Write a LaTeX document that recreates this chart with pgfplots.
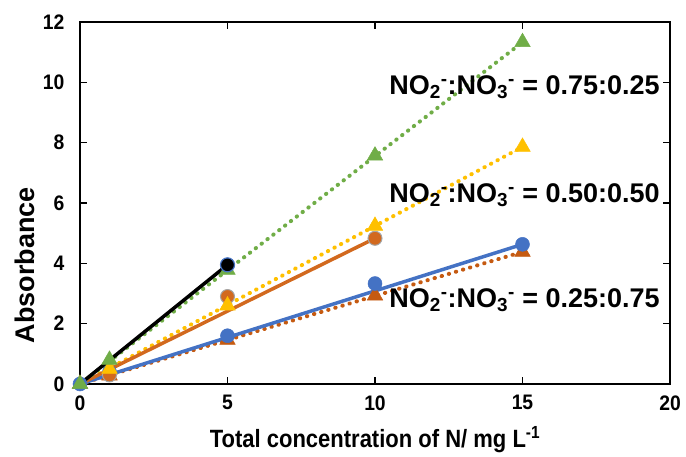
\documentclass[border=0pt]{standalone}
\usepackage{pgfplots}
\pgfplotsset{compat=1.18}
\usepackage{fontspec}
\setmainfont{Liberation Sans}
\newfontfamily\narrowfont{Liberation Sans}[FakeStretch=0.88]
\newfontfamily\tickfont{Liberation Sans}[FakeStretch=0.92]
\definecolor{xblue}{HTML}{4472C4}
\definecolor{xorange}{HTML}{C55A11}
\definecolor{xorange2}{HTML}{D2691E}
\definecolor{xyellow}{HTML}{FFC000}
\definecolor{xgreen}{HTML}{70AD47}
\definecolor{xgrey}{HTML}{A5A5A5}
\begin{document}
\begin{tikzpicture}[font=\bfseries]
\begin{axis}[
  scale only axis, width=590pt, height=362pt,
  xmin=0, xmax=20, ymin=0, ymax=12,
  xtick={0,5,10,15,20}, ytick={0,2,4,6,8,10,12},
  tick align=inside, major tick length=7pt,
  axis line style={line width=2pt},
  every tick/.style={black, line width=1.6pt},
  /pgf/number format/assume math mode=true,
  ticklabel style={font=\tickfont\fontsize{21}{23}\selectfont\bfseries},
  xticklabel style={yshift=-8pt},
  yticklabel style={xshift=-12pt},
  xlabel={Total concentration of N/ mg L\textsuperscript{-1}},
  ylabel={Absorbance},
  xlabel style={font=\narrowfont\fontsize{25}{27}\selectfont\bfseries, at={(axis description cs:0.5,-0.155)}, anchor=center},
  ylabel style={font=\fontsize{27}{29}\selectfont\bfseries, at={(axis description cs:-0.093,0.328)}, anchor=center},
  clip=false,
]
% trend lines
\addplot[xorange, line width=4pt, dash pattern=on 0.4pt off 7pt, line cap=round] coordinates {(0,0) (15,4.38)};
\addplot[xblue, line width=3.5pt] coordinates {(0,0) (15,4.63)};
\addplot[xyellow, line width=4pt, dash pattern=on 0.4pt off 7pt, line cap=round] coordinates {(0,0) (15,7.86)};
\addplot[xorange2, line width=3.5pt] coordinates {(0,0) (10,4.83)};
\addplot[xgreen, line width=4pt, dash pattern=on 0.4pt off 7pt, line cap=round] coordinates {(0,0) (15,11.33)};
\addplot[black, line width=3.5pt] coordinates {(0,0) (5,3.95)};
% markers
\addplot[only marks, mark=triangle*, mark size=9pt, mark options={fill=xorange, draw=xorange, line width=0.5pt}]
 coordinates {(0,0) (1,0.28) (5,1.46) (10,2.93) (15,4.38)};
\addplot[only marks, mark=*, mark size=7pt, mark options={fill=xblue, draw=xblue, line width=0.5pt}]
 coordinates {(0,0) (1,0.4) (5,1.6) (10,3.33) (15,4.63)};
\addplot[only marks, mark=*, mark size=7pt, mark options={fill=xorange2, draw=xgrey, line width=1pt}]
 coordinates {(1,0.3) (5,2.9) (10,4.83)};
\addplot[only marks, mark=triangle*, mark size=9pt, mark options={fill=xyellow, draw=xyellow, line width=0.5pt}]
 coordinates {(1,0.5) (5,2.6) (10,5.24) (15,7.86)};
\addplot[only marks, mark=triangle*, mark size=9pt, mark options={fill=xgreen, draw=xgreen, line width=0.5pt}]
 coordinates {(0,0) (1,0.8) (5,3.78) (10,7.57) (15,11.33)};
\addplot[only marks, mark=*, mark size=7pt, mark options={fill=black, draw=xblue, line width=1.2pt}]
 coordinates {(5,3.95)};
\node[anchor=east, font=\fontsize{27}{29}\selectfont\bfseries, inner sep=0pt] at (axis cs:19.66,9.84) {NO\textsubscript{2}\textsuperscript{-}:NO\textsubscript{3}\textsuperscript{-} = 0.75:0.25};
\node[anchor=east, font=\fontsize{27}{29}\selectfont\bfseries, inner sep=0pt] at (axis cs:19.66,6.26) {NO\textsubscript{2}\textsuperscript{-}:NO\textsubscript{3}\textsuperscript{-} = 0.50:0.50};
\node[anchor=east, font=\fontsize{27}{29}\selectfont\bfseries, inner sep=0pt] at (axis cs:19.66,2.78) {NO\textsubscript{2}\textsuperscript{-}:NO\textsubscript{3}\textsuperscript{-} = 0.25:0.75};
\end{axis}
\path (current axis.south west) ++(-80pt,-67pt) coordinate (bl);
\path (current axis.north east) ++(16pt,22pt) coordinate (tr);
\useasboundingbox (bl) rectangle (tr);
\end{tikzpicture}
\end{document}
